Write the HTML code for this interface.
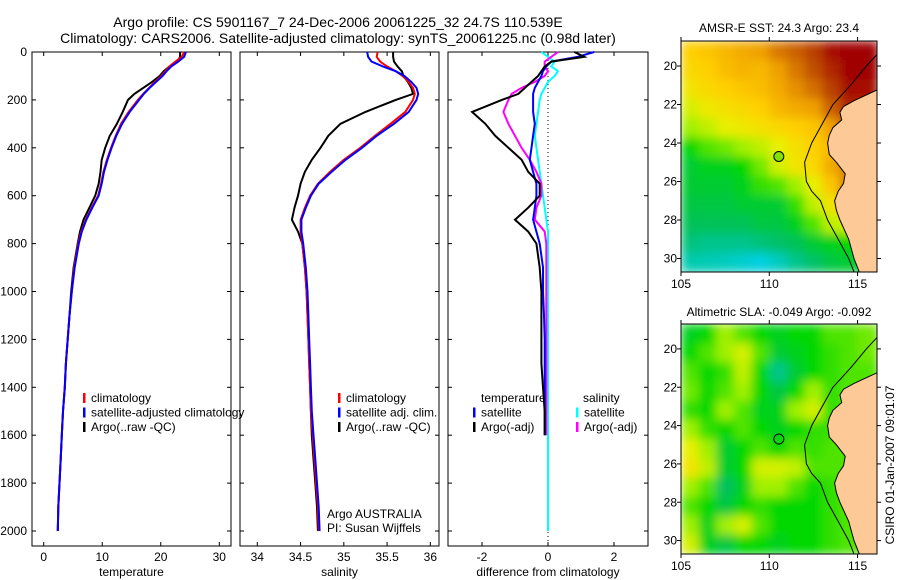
<!DOCTYPE html>
<html><head><meta charset="utf-8">
<style>
body{margin:0;background:#fff;}
svg{display:block;font-family:"Liberation Sans",sans-serif;}
text{font-size:12px;fill:#000;}
</style></head>
<body>
<svg id="fig" width="900" height="580" viewBox="0 0 900 580" xmlns="http://www.w3.org/2000/svg">
<defs><filter id="blur" x="0" y="0" width="1" height="1"><feGaussianBlur stdDeviation="5" edgeMode="duplicate"/></filter></defs>
<rect width="900" height="580" fill="#fff"/>
<text x="338" y="27" text-anchor="middle" style="font-size:14px">Argo profile: CS 5901167_7 24-Dec-2006 20061225_32 24.7S 110.539E</text>
<text x="338" y="43" text-anchor="middle" style="font-size:14px">Climatology: CARS2006. Satellite-adjusted climatology: synTS_20061225.nc (0.98d later)</text>
<g id="p1"></g>
<g id="p2"></g>
<g id="p3"></g>
<g id="m1"></g>
<g id="m2"></g>
<text x="779" y="32" text-anchor="middle">AMSR-E SST: 24.3 Argo: 23.4</text>
<text x="779" y="316" text-anchor="middle">Altimetric SLA: -0.049 Argo: -0.092</text>
<text transform="translate(894,465) rotate(-90)" text-anchor="middle">CSIRO 01-Jan-2007 09:01:07</text>
</svg>
<script>
const depths=[0,20,40,60,80,100,125,150,175,200,250,300,350,400,450,500,550,600,650,700,750,800,900,1000,1100,1200,1300,1400,1500,1600,1700,1800,1900,2000];
const tempArgo=[23.3,23.3,22.8,21.5,20.5,19.8,18.5,17,15.5,14.4,13.5,12.5,11.3,10.5,9.9,9.7,9.4,8.8,7.8,6.8,6.2,5.8,5.1,4.7,4.4,4.1,3.8,3.6,3.3,3.1,2.9,2.7,2.5,2.4];
const tempClim=[24.0,23.6,22.5,21.5,20.8,20.1,19,18,17,16.1,14.5,13.2,12.3,11.5,10.8,10.2,9.8,9.3,8.2,7.2,6.4,5.9,5.2,4.8,4.4,4.1,3.8,3.6,3.3,3.1,2.9,2.7,2.5,2.4];
const tempSat=[24.3,24.0,23.0,21.8,21.0,20.3,19.2,18.1,17.1,16.3,14.7,13.4,12.4,11.6,10.9,10.3,9.9,9.4,8.3,7.3,6.5,6.0,5.3,4.8,4.4,4.1,3.8,3.6,3.3,3.1,2.9,2.7,2.5,2.4];
const salArgo=[35.57,35.57,35.58,35.62,35.67,35.69,35.74,35.78,35.8,35.6,35.25,34.96,34.82,34.73,34.63,34.55,34.5,34.47,34.43,34.4,34.47,34.52,34.55,34.57,34.58,34.59,34.6,34.61,34.62,34.63,34.65,34.67,34.69,34.7];
const salClim=[35.39,35.38,35.42,35.5,35.6,35.68,35.75,35.8,35.82,35.8,35.71,35.54,35.36,35.19,35.0,34.84,34.7,34.61,34.55,34.5,34.5,34.52,34.55,34.57,34.58,34.59,34.6,34.61,34.62,34.64,34.66,34.68,34.7,34.71];
const salSat=[35.27,35.28,35.32,35.45,35.6,35.7,35.78,35.84,35.86,35.84,35.75,35.58,35.38,35.21,35.02,34.86,34.71,34.62,34.56,34.51,34.51,34.53,34.56,34.58,34.59,34.6,34.61,34.62,34.63,34.65,34.67,34.69,34.71,34.72];
const diffTempArgo=[0.8,1.1,0.1,-0.1,-0.2,-0.3,-0.5,-0.7,-0.9,-1.4,-2.3,-1.9,-1.6,-1.2,-0.8,-0.6,-0.25,-0.25,-0.6,-1.0,-0.6,-0.35,-0.25,-0.2,-0.2,-0.2,-0.2,-0.15,-0.1,-0.1,null,null,null,null];
const diffTempSat=[1.4,0.9,0.1,-0.05,-0.15,-0.2,-0.3,-0.4,-0.45,-0.45,-0.45,-0.4,-0.45,-0.5,-0.55,-0.45,-0.35,-0.35,-0.4,-0.45,-0.35,-0.25,-0.15,-0.15,-0.12,-0.1,-0.1,-0.1,-0.1,-0.1,null,null,null,null];
const diffSalArgo=[0.3,0.1,-0.1,-0.1,0.0,-0.1,-0.4,-0.8,-1.1,-1.2,-1.35,-1.2,-1.0,-0.8,-0.55,-0.35,-0.2,-0.2,-0.35,-0.4,-0.1,-0.05,-0.05,-0.05,-0.05,-0.05,-0.05,-0.05,-0.05,-0.05,null,null,null,null];
const diffSalSat=[-0.2,0.0,0.2,0.1,0.3,0.2,0.0,-0.1,-0.2,-0.25,-0.3,-0.35,-0.4,-0.35,-0.3,-0.25,-0.2,-0.15,-0.1,-0.05,0,0,0,0,0,0,0,0,0,0,0,0,0,0];
const depthTicks=[0,200,400,600,800,1000,1200,1400,1600,1800,2000];
const tempTicks=[0,10,20,30];
const salTicks=[34,34.5,35,35.5,36];
const diffTicks=[-2,0,2];
const sstGrid=[
[0.7,0.72,0.75,0.78,0.8,0.85,0.88,0.92,0.98,1,1],
[0.68,0.7,0.74,0.76,0.75,0.8,0.85,0.9,0.95,1,1],
[0.65,0.68,0.7,0.72,0.74,0.78,0.82,0.86,0.92,0.98,0.98],
[0.6,0.64,0.66,0.68,0.7,0.75,0.78,0.8,0.88,0.95,0.95],
[0.55,0.58,0.62,0.64,0.66,0.68,0.7,0.72,0.8,0.9,0.9],
[0.45,0.5,0.52,0.55,0.58,0.62,0.66,0.7,0.75,0.85,0.85],
[0.4,0.42,0.42,0.45,0.52,0.6,0.65,0.68,0.78,0.85,0.85],
[0.4,0.4,0.4,0.42,0.48,0.5,0.55,0.62,0.72,0.85,0.85],
[0.38,0.38,0.38,0.4,0.4,0.4,0.48,0.58,0.65,0.7,0.7],
[0.36,0.36,0.36,0.36,0.38,0.38,0.42,0.5,0.58,0.6,0.6],
[0.32,0.3,0.3,0.3,0.32,0.34,0.36,0.4,0.42,0.45,0.45],
[0.26,0.25,0.24,0.22,0.2,0.24,0.3,0.34,0.38,0.4,0.4]];
const slaGrid=[
[0.42,0.45,0.55,0.5,0.45,0.42,0.45,0.45,0.5,0.5,0.52],
[0.45,0.5,0.55,0.6,0.5,0.4,0.42,0.45,0.48,0.5,0.52],
[0.5,0.45,0.48,0.58,0.45,0.3,0.4,0.45,0.48,0.5,0.5],
[0.52,0.45,0.5,0.55,0.45,0.38,0.45,0.55,0.48,0.5,0.5],
[0.48,0.45,0.55,0.5,0.42,0.42,0.55,0.6,0.48,0.5,0.5],
[0.55,0.48,0.45,0.5,0.45,0.42,0.45,0.48,0.48,0.5,0.5],
[0.62,0.55,0.4,0.45,0.5,0.45,0.5,0.48,0.5,0.5,0.5],
[0.65,0.58,0.4,0.45,0.6,0.6,0.58,0.5,0.5,0.5,0.5],
[0.55,0.5,0.35,0.42,0.55,0.55,0.5,0.45,0.48,0.5,0.5],
[0.5,0.45,0.38,0.45,0.48,0.45,0.45,0.45,0.48,0.5,0.5],
[0.55,0.42,0.55,0.6,0.5,0.45,0.45,0.45,0.48,0.5,0.5],
[0.6,0.42,0.38,0.45,0.45,0.42,0.45,0.45,0.48,0.5,0.5]];
const landLon=[116.2,115.5,114.8,114.2,114.0,114.1,113.6,113.4,113.3,113.4,113.8,114.3,114.2,113.9,113.7,113.8,114.0,114.5,114.8,115.1,116.2];
const landLat=[21.2,21.5,21.8,22.1,22.4,22.8,23.2,23.6,24.0,24.6,25.0,25.6,26.1,26.5,27.0,27.5,28.0,29.0,30.0,30.7,30.7];
const isoLon=[116.2,115.5,114.6,113.6,113.0,112.4,112.0,112.1,112.4,112.9,113.3,113.9,114.5,114.8];
const isoLat=[19.3,20.0,21.0,22.0,23.0,24.0,25.0,26.0,26.5,27.0,28.0,29.0,30.0,30.7];
const latTicks=[20,22,24,26,28,30];
const lonTicks=[105,110,115];
const argoPos=[110.54,24.7];

const NS='http://www.w3.org/2000/svg';
function mk(parent,tag,attrs){const e=document.createElementNS(NS,tag);for(const k in attrs)e.setAttribute(k,attrs[k]);parent.appendChild(e);return e;}
const Y0=52,Y1=546;
const yD=d=>52+d*0.2395;

function panel(g,x0,x1,xmin,xmax,xticks,label,showY){
  const xs=v=>x0+(v-xmin)/(xmax-xmin)*(x1-x0);
  const fr=mk(g,'rect',{x:x0,y:Y0,width:x1-x0,height:Y1-Y0,fill:'none',stroke:'#000','stroke-width':1});
  
  
  depthTicks.forEach(d=>{
    mk(g,'line',{x1:x0,x2:x0+4,y1:yD(d),y2:yD(d),stroke:'#000'});
    mk(g,'line',{x1:x1-4,x2:x1,y1:yD(d),y2:yD(d),stroke:'#000'});
    if(showY){const t=mk(g,'text',{x:27,y:yD(d)+4,'text-anchor':'end'});t.textContent=d;
      
      }
  });
  xticks.forEach(v=>{
    mk(g,'line',{x1:xs(v),x2:xs(v),y1:Y1,y2:Y1-4,stroke:'#000'});
    mk(g,'line',{x1:xs(v),x2:xs(v),y1:Y0,y2:Y0+4,stroke:'#000'});
    const t=mk(g,'text',{x:xs(v),y:561,'text-anchor':'middle'});t.textContent=v;
    
    
  });
  const l=mk(g,'text',{x:(x0+x1)/2,y:576,'text-anchor':'middle'});l.textContent=label;
  
  
  return xs;
}
function series(g,xs,vals,color,name){
  let d='',pen=false;
  vals.forEach((v,i)=>{if(v===null){pen=false;return;}d+=(pen?'L':'M')+xs(v).toFixed(1)+','+yD(depths[i]).toFixed(1);pen=true;});
  const p=mk(g,'path',{d:d,fill:'none',stroke:color,'stroke-width':2});
  
  
}
function legend(g,x,y,items){
  items.forEach((it,i)=>{
    mk(g,'rect',{x:x,y:y+i*14.5-9,width:2.5,height:10,fill:it[0]});
    const t=mk(g,'text',{x:x+8,y:y+i*14.5});t.textContent=it[1];
    
    
  });
}
const p1=document.getElementById('p1'),p2=document.getElementById('p2'),p3=document.getElementById('p3');
const xT=panel(p1,32,231,-2,32,tempTicks,'temperature',true);
series(p1,xT,tempArgo,'#000','temp-argo-line');
series(p1,xT,tempClim,'#f00','temp-climatology-line');
series(p1,xT,tempSat,'#00f','temp-satellite-line');
legend(p1,83,402,[['#f00','climatology'],['#00f','satellite-adjusted climatology'],['#000','Argo(..raw -QC)']]);
const xS=panel(p2,240,439,33.8,36.1,salTicks,'salinity',false);
series(p2,xS,salArgo,'#000','sal-argo-line');
series(p2,xS,salClim,'#f00','sal-climatology-line');
series(p2,xS,salSat,'#00f','sal-satellite-line');
legend(p2,338,402,[['#f00','climatology'],['#00f','satellite adj. clim.'],['#000','Argo(..raw -QC)']]);
const n1=mk(p2,'text',{x:327,y:518});n1.textContent='Argo AUSTRALIA';


const n2=mk(p2,'text',{x:327,y:532});n2.textContent='PI: Susan Wijffels';


const xDf=panel(p3,448,648,-3.03,3.03,diffTicks,'difference from climatology',false);
mk(p3,'line',{x1:xDf(0),x2:xDf(0),y1:Y0,y2:Y1,stroke:'#000','stroke-dasharray':'1,3'});
series(p3,xDf,diffSalSat,'#0ff','diff-sal-satellite-line');
series(p3,xDf,diffSalArgo,'#f0f','diff-sal-argo-line');
series(p3,xDf,diffTempSat,'#00f','diff-temp-satellite-line');
series(p3,xDf,diffTempArgo,'#000','diff-temp-argo-line');
const lt=mk(p3,'text',{x:481,y:402});lt.textContent='temperature';


const ls=mk(p3,'text',{x:583,y:402});ls.textContent='salinity';


legend(p3,473,416.5,[['#00f','satellite'],['#000','Argo(-adj)']]);
legend(p3,576,416.5,[['#0ff','satellite'],['#f0f','Argo(-adj)']]);

const stops=[[0,[0,128,255]],[0.2,[0,208,224]],[0.35,[0,192,96]],[0.45,[0,216,0]],[0.55,[160,240,0]],[0.62,[232,240,0]],[0.7,[255,208,0]],[0.8,[240,160,0]],[0.9,[192,80,0]],[1,[160,0,0]]];
function cmap(v){for(let i=1;i<stops.length;i++){if(v<=stops[i][0]){const a=stops[i-1],b=stops[i],t=(v-a[0])/(b[0]-a[0]);return 'rgb('+a[1].map((c,k)=>Math.round(c+(b[1][k]-c)*t)).join(',')+')';}}return 'rgb(160,0,0)';}
function drawMap(g,top,bottom,grid,id,dotFill){
  const L=681,R=877,lonMin=105,lonMax=116.1,latMin=18.7,latMax=30.7;
  const xl=lo=>L+(lo-lonMin)/(lonMax-lonMin)*(R-L);
  const yl=la=>top+(la-latMin)/(latMax-latMin)*(bottom-top);
  const cp=mk(g,'clipPath',{id:id});mk(cp,'rect',{x:L,y:top,width:R-L,height:bottom-top});
  const gg=mk(g,'g',{'clip-path':'url(#'+id+')'});
  const cells=mk(gg,'g',{filter:'url(#blur)'});
  grid.forEach((row,i)=>row.forEach((v,j)=>{
    const lo=105+j,la=latMin+i;
    const r=mk(cells,'rect',{x:xl(lo).toFixed(1),y:yl(la).toFixed(1),width:(xl(lo+1.2)-xl(lo)).toFixed(1),height:(yl(la+1)-yl(la)+0.6).toFixed(1),fill:cmap(v)});
    
    
  }));
  const land=mk(gg,'polygon',{points:landLon.map((lo,i)=>xl(lo).toFixed(1)+','+yl(landLat[i]).toFixed(1)).join(' '),fill:'#fdc997',stroke:'#000','stroke-width':1});
  
  
  const iso=mk(gg,'polyline',{points:isoLon.map((lo,i)=>xl(lo).toFixed(1)+','+yl(isoLat[i]).toFixed(1)).join(' '),fill:'none',stroke:'#000','stroke-width':1});
  
  
  const dot=mk(g,'circle',{cx:xl(argoPos[0]),cy:yl(argoPos[1]),r:5,fill:dotFill,stroke:'#000'});
  
  
  mk(g,'rect',{x:L,y:top,width:R-L,height:bottom-top,fill:'none',stroke:'#000'});
  latTicks.forEach(la=>{
    mk(g,'line',{x1:L,x2:L-4,y1:yl(la),y2:yl(la),stroke:'#000'});
    mk(g,'line',{x1:R,x2:R+4,y1:yl(la),y2:yl(la),stroke:'#000'});
    const t=mk(g,'text',{x:L-4,y:yl(la)+4,'text-anchor':'end'});t.textContent=la;
    
    
  });
  lonTicks.forEach(lo=>{
    mk(g,'line',{x1:xl(lo),x2:xl(lo),y1:bottom,y2:bottom+4,stroke:'#000'});
    mk(g,'line',{x1:xl(lo),x2:xl(lo),y1:top,y2:top-4,stroke:'#000'});
    const t=mk(g,'text',{x:xl(lo),y:bottom+16,'text-anchor':'middle'});t.textContent=lo;
    
    
  });
}
drawMap(document.getElementById('m1'),41,272,sstGrid,'c1','#80e000');
drawMap(document.getElementById('m2'),324,554,slaGrid,'c2','none');
</script>
</body></html>
